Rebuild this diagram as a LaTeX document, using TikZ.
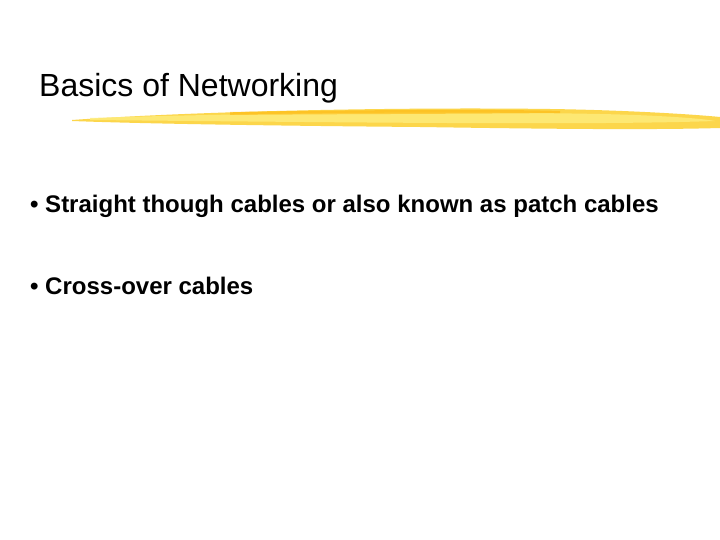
\documentclass[tikz,border=0pt]{standalone}
\usepackage{fontspec}
\setmainfont{Liberation Sans}
\begin{document}
\begin{tikzpicture}[x=1bp,y=-1bp,
  bullet/.style={anchor=base west,inner sep=0pt,font=\fontsize{24bp}{28bp}\selectfont\bfseries}]
\useasboundingbox[fill=white] (0,0) rectangle (720,540);
\fill[yellow!60!orange!70] (72,120) .. controls (200,111) and (400,107) .. (550,109)
  .. controls (620,110) and (690,114) .. (720,117) -- (720,128)
  .. controls (650,130) and (550,129) .. (420,127)
  .. controls (300,126) and (150,124) .. (72,121) -- cycle;
\fill[yellow!80!orange!50,opacity=0.8] (90,118) .. controls (250,113) and (450,111) .. (600,114)
  .. controls (650,115) and (700,118) .. (715,121)
  .. controls (600,125) and (400,123) .. (90,120) -- cycle;
\fill[orange!60!yellow,opacity=0.5] (230,112) .. controls (350,110) and (500,109) .. (560,111)
  -- (560,113) .. controls (450,114) and (330,114) .. (230,115) -- cycle;
\node[anchor=base west,inner sep=0pt,font=\fontsize{32bp}{36bp}\selectfont] (title) at (39,97) {Basics of Networking};
\node[bullet] (b1) at (30,213) {• Straight though cables or also known as patch cables};
\node[bullet] (b2) at (30,294) {• Cross-over cables};
\end{tikzpicture}
\end{document}
